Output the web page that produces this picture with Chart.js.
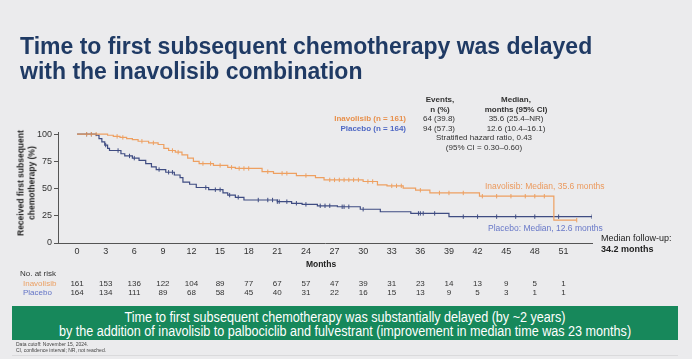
<!DOCTYPE html>
<html><head><meta charset="utf-8">
<script src="https://cdn.jsdelivr.net/npm/chart.js@4/dist/chart.umd.min.js"></script>
<style>
html,body{margin:0;padding:0;background:#ebebed;}
body{width:692px;height:359px;position:relative;overflow:hidden;font-family:"Liberation Sans",Arial,sans-serif;}
#wrap{position:absolute;left:0;top:0;width:692px;height:359px;}
.t{position:absolute;white-space:nowrap;}
.b{font-weight:bold;}
.c{text-align:center;transform:translateX(-50%);}
.sm{font-size:8px;color:#333;line-height:10px;}
</style></head><body>
<div id="wrap"><canvas id="c" width="692" height="359"></canvas></div>

<div class="t b" style="left:20px;top:34px;font-size:23px;color:#1f3a64;line-height:25px;">Time to first subsequent chemotherapy was delayed<br>with the inavolisib combination</div>

<div class="t sm b c" style="left:440px;top:95px;">Events,<br>n (%)</div>
<div class="t sm b c" style="left:516px;top:95px;">Median,<br>months (95% CI)</div>
<div class="t sm b" style="right:286px;top:114px;color:#e8904c;">Inavolisib (n = 161)</div>
<div class="t sm b" style="right:286px;top:124px;color:#4f68c4;">Placebo (n = 164)</div>
<div class="t sm c" style="left:439px;top:114px;">64 (39.8)</div>
<div class="t sm c" style="left:439px;top:124px;">94 (57.3)</div>
<div class="t sm c" style="left:516px;top:114px;">35.6 (25.4–NR)</div>
<div class="t sm c" style="left:516px;top:124px;">12.6 (10.4–16.1)</div>
<div class="t sm c" style="left:484px;top:133px;">Stratified hazard ratio, 0.43</div>
<div class="t sm c" style="left:484px;top:143px;">(95% CI = 0.30–0.60)</div>

<div class="t b c" style="left:26px;top:183px;font-size:8.5px;color:#222;line-height:10.5px;transform:translate(-50%,-50%) rotate(-90deg);">Received first subsequent<br>chemotherapy (%)</div>

<div class="t" style="left:485px;top:181px;font-size:8.5px;color:#eb9a5e;">Inavolisib: Median, 35.6 months</div>
<div class="t" style="left:488px;top:223px;font-size:8.5px;color:#6878c8;">Placebo: Median, 12.6 months</div>

<div class="t" style="left:601px;top:233px;font-size:9px;color:#222;line-height:11px;">Median follow-up:<br><b>34.2 months</b></div>

<div class="t b c" style="left:321px;top:259px;font-size:8.5px;color:#222;">Months</div>
<div class="t" style="left:20px;top:269px;font-size:8px;color:#333;">No. at risk</div>
<div class="t" style="left:23px;top:279px;font-size:8px;color:#eba064;">Inavolisib</div>
<div class="t" style="left:23px;top:288px;font-size:8px;color:#6273c6;">Placebo</div>

<div class="t" style="left:12px;top:306px;width:666px;height:34px;background:#17885b;"></div>
<div class="t" style="left:345px;top:310px;font-family:'Liberation Sans',Arial,sans-serif;font-size:14px;line-height:14px;color:#fff;text-align:center;transform:translateX(-50%) scaleX(0.9);">Time to first subsequent chemotherapy was substantially delayed (by ~2 years)<br>by the addition of inavolisib to palbociclib and fulvestrant (improvement in median time was 23 months)</div>
<div class="t" style="left:16px;top:341px;font-size:5px;color:#444;line-height:6px;">Data cutoff: November 15, 2024.<br>CI, confidence interval; NR, not reached.</div>
<div class="t" style="left:12px;top:355px;width:666px;height:1px;background:#dadadc;"></div>

<script>
// ---- data ----
const xTicks = [0,3,6,9,12,15,18,21,24,27,30,33,36,39,42,45,48,51];
const yTicks = [0,25,50,75,100];
// Kaplan-Meier steps: [month, % without subsequent chemotherapy]
const inavMonths = [0,3.2,3.8,4.5,5.2,5.8,6.4,7.5,8.5,9.1,9.6,10.3,11,11.6,12.2,12.8,14.3,15.8,16.6,19.4,20.6,23,25,25.9,30,31.5,32.5,34.2,35.5,37,42.2,50,52.4];
const inavPct    = [100,99,98,97,96,95,93.5,92,90.5,87,85,83.5,81,78,75,73,71.3,69.5,68.5,65.5,64,62,60,58,56.5,53.5,52.5,50.5,48.5,46,43,21,21];
const placMonths = [0,2,2.3,2.6,2.9,3.2,3.4,4.6,5,5.8,6.5,7.2,7.8,8.3,9.3,10.2,10.8,11.1,11.8,12.5,13.8,15.3,15.8,16.6,17.5,21,22.5,23.6,25.2,27.3,29.7,31.8,35,39,54];
const placPct    = [100,99,96,93,90,87,85,82,80,78,76,73,70,67.5,65,62.5,60,56,54,51,49,46,44,42,39.5,38,36.5,35.5,34.2,33.3,31,28.7,27.2,24.2,24.2];
// censoring times
const inavCensor = [1,1.5,2,4.2,4.8,6.8,8,10,10.6,13.2,14,15,16.2,17,17.5,18,20,21.5,22,24,26.5,27,27.5,28,28.5,29,29.5,30.5,31,33,33.5,34,36,38,39,40.5,42.5,44,45.5,47,48,49,52.4];
const placCensor = [1,1.5,3,4.3,5.5,6,8.6,9.6,10,13.5,14.5,15,16,16.9,19,20,20.5,21,21.2,22,23,24,25.5,26,26.5,27.8,28,28.5,30,35.8,36,36.3,37.5,40.5,42,44,46,48,50.5,54];
// number at risk
const riskMonths = xTicks;
const riskInav = [161,153,136,122,104,89,77,67,57,47,39,31,23,14,13,9,5,1];
const riskPlac = [164,134,111,89,68,58,45,40,31,22,16,15,13,9,5,3,1,1];

const ORANGE = '#eea061', BLUE = '#3f4c82';
const toPts = (xs, ys) => xs.map((x,i)=>({x, y: ys[i]}));
const valAt = (xs, ys, t) => { let v = ys[0]; for (let i=0;i<xs.length;i++){ if (xs[i] <= t) v = ys[i]; } return v; };
const censorPts = (times, xs, ys) => times.map(t => ({x:t, y: valAt(xs, ys, t)}));

const atRisk = {
  id: 'atrisk',
  afterDraw(chart) {
    const ctx = chart.ctx, xs = chart.scales.x;
    ctx.save();
    ctx.font = '8px "Liberation Sans", Arial, sans-serif';
    ctx.fillStyle = '#333';
    ctx.textAlign = 'center';
    ctx.textBaseline = 'middle';
    riskMonths.forEach((t,i) => {
      const x = xs.getPixelForValue(t);
      ctx.fillText(String(riskInav[i]), x, 284);
      ctx.fillText(String(riskPlac[i]), x, 293);
    });
    ctx.restore();
  }
};

new Chart(document.getElementById('c'), {
  type: 'line',
  data: {
    datasets: [
      { label:'Inavolisib', data: toPts(inavMonths, inavPct), borderColor: ORANGE, borderWidth: 1.2, stepped: 'before', pointRadius: 0, fill: false },
      { label:'Placebo', data: toPts(placMonths, placPct), borderColor: BLUE, borderWidth: 1.2, stepped: 'before', pointRadius: 0, fill: false },
      { type:'scatter', label:'Inavolisib censored', data: censorPts(inavCensor, inavMonths, inavPct), pointStyle:'line', rotation:90, pointRadius:2.2, borderColor: ORANGE, borderWidth:1, showLine:false },
      { type:'scatter', label:'Placebo censored', data: censorPts(placCensor, placMonths, placPct), pointStyle:'line', rotation:90, pointRadius:2.2, borderColor: BLUE, borderWidth:1, showLine:false }
    ]
  },
  options: {
    responsive: false,
    animation: false,
    events: [],
    layout: { padding: { left: 0, top: 132, right: 100, bottom: 96 } },
    plugins: { legend: { display: false }, tooltip: { enabled: false } },
    scales: {
      x: {
        type: 'linear', min: -2, max: 54,
        afterBuildTicks: s => { s.ticks = xTicks.map(v => ({value: v})); },
        afterFit: s => { s.height = 20; },
        grid: { display: true, drawOnChartArea: false, drawTicks: false },
        border: { color: '#555', width: 1 },
        ticks: { font: { size: 9, family: '"Liberation Sans", Arial, sans-serif' }, color: '#333', padding: 3, maxRotation: 0, autoSkip: false }
      },
      y: {
        type: 'linear', min: 0, max: 102,
        afterBuildTicks: s => { s.ticks = yTicks.map(v => ({value: v})); },
        afterFit: s => { s.width = 58; },
        grid: { display: true, drawOnChartArea: false, drawTicks: true, tickLength: 4, color: '#555' },
        border: { color: '#555', width: 1 },
        ticks: { font: { size: 9, family: '"Liberation Sans", Arial, sans-serif' }, color: '#333', padding: 2 }
      }
    }
  },
  plugins: [atRisk]
});
</script>
</body></html>
